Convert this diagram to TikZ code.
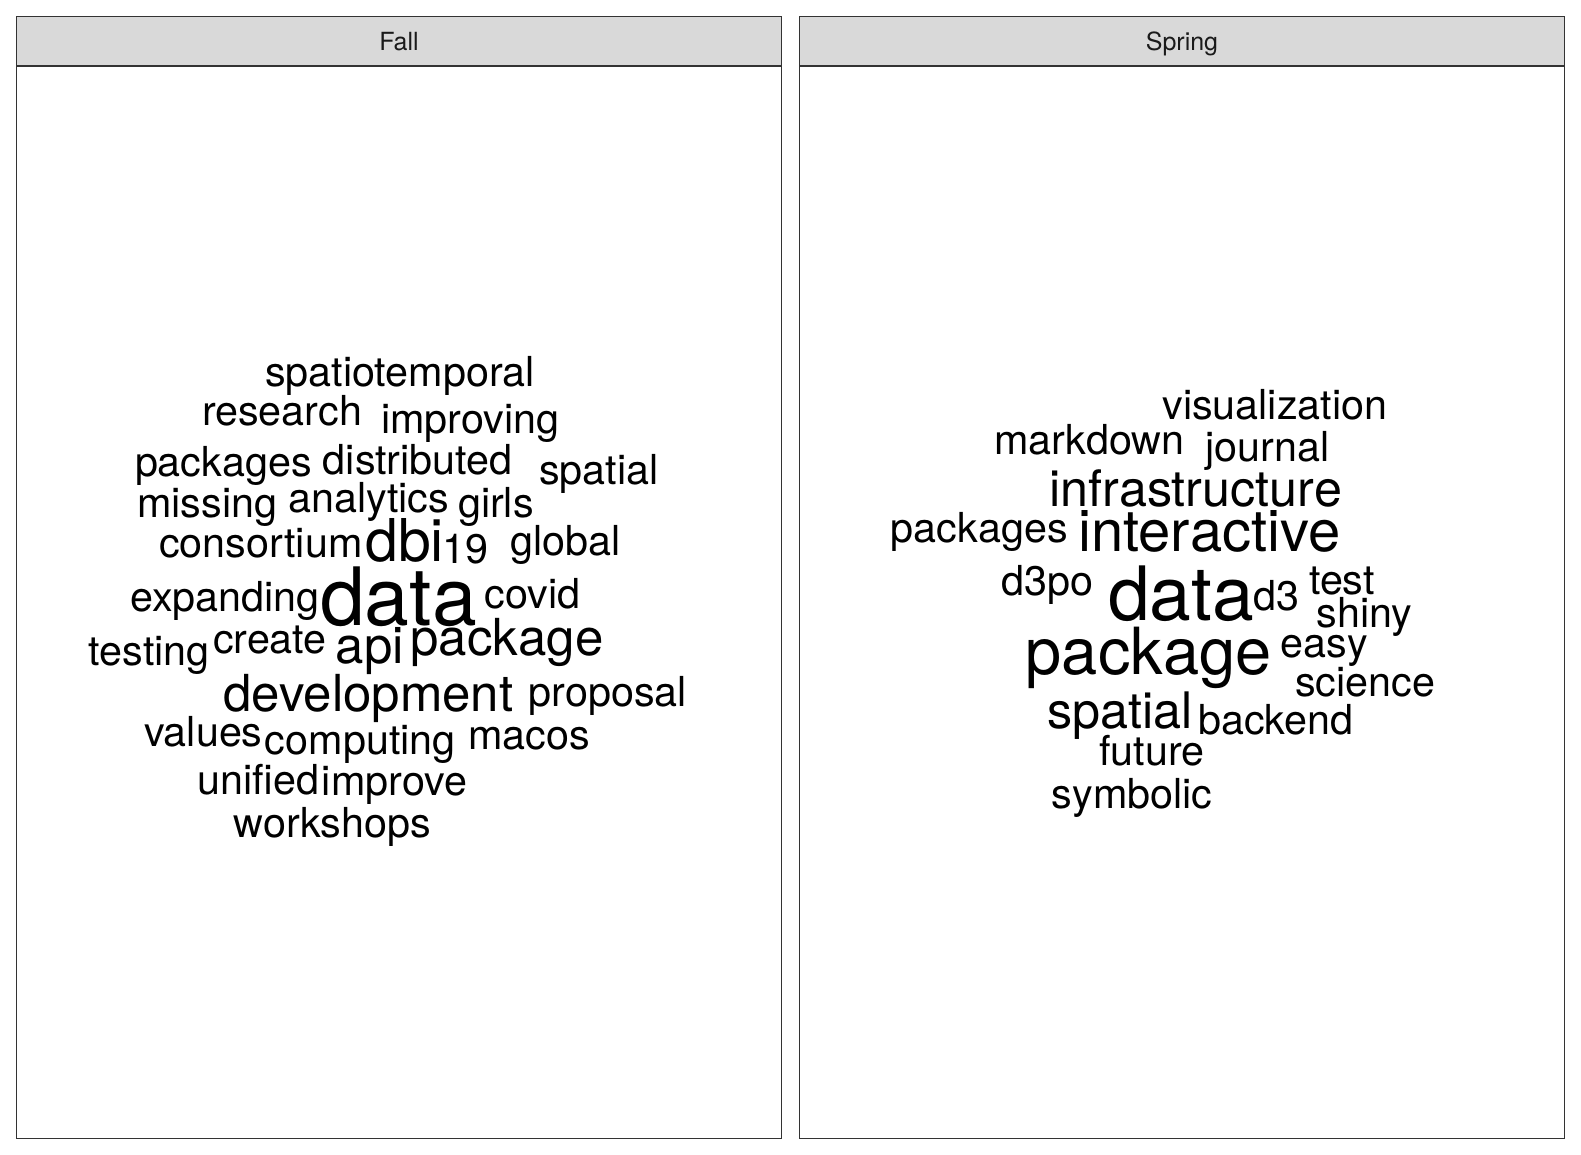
\documentclass[tikz,border=0pt]{standalone}
\usepackage{fontspec}
\setmainfont{TeX Gyre Heros}
\definecolor{stripfill}{HTML}{D9D9D9}
\definecolor{framecol}{HTML}{333333}
\definecolor{striptext}{HTML}{1A1A1A}
\tikzset{
  panelbox/.style={draw=framecol, line width=1.2pt, fill=white},
  stripbox/.style={draw=framecol, line width=1.2pt, fill=stripfill},
  striplabel/.style={text=striptext, font=\fontsize{25}{25}\selectfont, inner sep=0pt, anchor=base},
  wd/.style={inner sep=0pt, anchor=base, text=black, font=\fontsize{#1}{#1}\selectfont},
  wd/.default=41.3
}
\begin{document}
\begin{tikzpicture}[x=1pt,y=-1pt]
\useasboundingbox (0,0) rectangle (1581,1155);
% panels
\draw[panelbox] (16.5,66) rectangle (781.5,1138.5);
\draw[stripbox] (16.5,16.5) rectangle (781.5,66);
\draw[panelbox] (799.5,66) rectangle (1564.5,1138.5);
\draw[stripbox] (799.5,16.5) rectangle (1564.5,66);
\node[striplabel] (fall) at (399,50.5) {Fall};
\node[striplabel] (spring) at (1182,50.5) {Spring};
\begin{scope}[x=1.009pt,y=-1.009pt]
% Fall
\node[wd] (f1) at (396.5,383) {spatiotemporal};
\node[wd] (f2) at (279.5,422) {research};
\node[wd] (f3) at (466,430) {improving};
\node[wd] (f4) at (221.5,472) {packages};
\node[wd] (f5) at (414,470) {distributed};
\node[wd] (f6) at (593.5,480) {spatial};
\node[wd] (f7) at (205.5,513) {missing};
\node[wd] (f8) at (365.5,508) {analytics};
\node[wd] (f9) at (491.5,513) {girls};
\node[wd] (f10) at (258.5,553) {consortium};
\node[wd=59] (f11) at (401,556) {dbi};
\node[wd] (f12) at (461,558) {19};
\node[wd] (f13) at (560.5,551) {global};
\node[wd] (f14) at (223,606) {expanding};
\node[wd=80.5] (f15) at (395,620) {data};
\node[wd] (f16) at (528,603) {covid};
\node[wd] (f17) at (148,660) {testing};
\node[wd] (f18) at (267.5,648) {create};
\node[wd=51] (f19) at (366.5,658) {api};
\node[wd=51] (f20) at (502.5,650) {package};
\node[wd=51] (f21) at (365,705) {development};
\node[wd] (f22) at (602.5,700) {proposal};
\node[wd] (f23) at (201.5,740) {values};
\node[wd] (f24) at (357,748) {computing};
\node[wd] (f25) at (524.5,743) {macos};
\node[wd] (f26) at (256,787) {unified};
\node[wd] (f27) at (391,788) {improve};
\node[wd] (f28) at (329.5,830) {workshops};
% Spring
\node[wd] (s1) at (1263.5,416) {visualization};
\node[wd] (s2) at (1079.5,450) {markdown};
\node[wd] (s3) at (1256,457) {journal};
\node[wd=50.3] (s4) at (1185,502) {infrastructure};
\node[wd] (s5) at (970.5,538) {packages};
\node[wd=58] (s6) at (1198.5,547) {interactive};
\node[wd=75] (s8) at (1170.5,615) {data};
\node[wd] (s7) at (1038,590) {d3po};
\node[wd] (s9) at (1265.5,605) {d3};
\node[wd] (s10) at (1330,589) {test};
\node[wd] (s11) at (1352.5,622) {shiny};
\node[wd=65] (s12) at (1138.5,668) {package};
\node[wd] (s13) at (1312.5,652) {easy};
\node[wd] (s14) at (1353,690) {science};
\node[wd=50.3] (s15) at (1110,722) {spatial};
\node[wd] (s16) at (1264.5,728) {backend};
\node[wd] (s17) at (1141.5,759) {future};
\node[wd] (s18) at (1122,801) {symbolic};
\end{scope}
\end{tikzpicture}
\end{document}
